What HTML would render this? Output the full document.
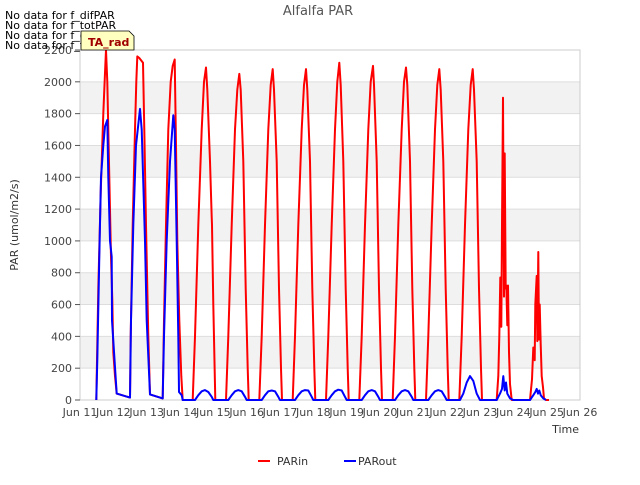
<!DOCTYPE html>
<html><head><meta charset="utf-8"><style>
body{margin:0;background:#fff;font-family:"Liberation Sans","DejaVu Sans",sans-serif;}
svg text{font-family:"DejaVu Sans","Liberation Sans",sans-serif;}
</style></head><body>
<svg id="chart" width="640" height="480" viewBox="0 0 640 480" xmlns="http://www.w3.org/2000/svg">
<g id="bands"></g><g id="grid"></g>
<rect x="80" y="50" width="500" height="350" fill="none" stroke="#ccc"/>
<g id="series"></g><g id="ticks"></g>
<text x="318" y="15" text-anchor="middle" font-size="13" fill="#555">Alfalfa PAR</text>
<text x="18" y="225" text-anchor="middle" font-size="11" fill="#333" transform="rotate(-90 18 225)">PAR (umol/m2/s)</text>
<text x="579" y="433" text-anchor="end" font-size="11" fill="#333">Time</text>
<g font-size="11" fill="#000">
<text x="5" y="19">No data for f_difPAR</text><text x="5" y="29">No data for f_totPAR</text>
<text x="5" y="39">No data for f_difPAR</text><text x="5" y="49">No data for f_totPAR</text></g>
<g>
<path d="M81,31 H129 L134,36 V50 H81 Z" fill="#ffffc0" stroke="#000" stroke-width="0.8"/>
<text x="88" y="46" font-size="11" font-weight="bold" fill="#a00000">TA_rad</text></g>
<g>
<line x1="258" y1="461" x2="270" y2="461" stroke="#f00" stroke-width="2"/>
<text x="277" y="465" font-size="11" fill="#333">PARin</text>
<line x1="344" y1="461" x2="356" y2="461" stroke="#00f" stroke-width="2"/>
<text x="358" y="465" font-size="11" fill="#333">PARout</text></g>
</svg>
<script>
const xTickDays=[11,12,13,14,15,16,17,18,19,20,21,22,23,24,25,26];
const yTicks=[0,200,400,600,800,1000,1200,1400,1600,1800,2000,2200];
const parinT=[11.49,11.55,11.62,11.7,11.76,11.78,11.82,11.88,11.93,11.97,11.98,12.0,12.05,12.1,12.5,12.52,12.58,12.65,12.69,12.72,12.78,12.89,12.93,12.98,13.05,13.1,13.48,13.52,13.58,13.65,13.72,13.78,13.84,13.88,13.92,13.98,14.04,14.08,
14.38,14.45,14.55,14.65,14.72,14.78,14.82,14.9,14.95,14.96,15.0,15.06,
15.38,15.45,15.55,15.65,15.72,15.78,15.82,15.9,15.97,16.03,16.06,
16.38,16.45,16.55,16.65,16.72,16.78,16.82,16.9,16.97,17.03,17.06,
17.38,17.45,17.55,17.65,17.72,17.78,17.82,17.9,17.97,18.03,18.06,
18.38,18.45,18.55,18.65,18.72,18.78,18.82,18.9,18.97,19.03,19.06,
19.38,19.45,19.55,19.65,19.72,19.79,19.82,19.9,19.97,20.03,20.06,
20.38,20.45,20.55,20.65,20.72,20.78,20.82,20.9,20.97,21.03,21.06,
21.38,21.45,21.55,21.65,21.72,21.78,21.82,21.9,21.97,22.03,22.06,
22.38,22.45,22.55,22.65,22.72,22.78,22.82,22.9,22.97,23.03,23.06,
23.5,23.55,23.58,23.61,23.64,23.66,23.69,23.72,23.74,23.77,23.79,23.82,23.84,23.87,23.9,23.95,24.02,24.1,
24.5,24.56,24.6,24.64,24.66,24.7,24.72,24.75,24.77,24.79,24.82,24.85,24.89,24.92,24.98,25.07];
const parinV=[0,700,1300,1800,2100,2200,2000,1400,900,630,500,300,150,40,15,400,1100,1700,2000,2160,2150,2120,1700,1100,400,35,10,500,1100,1700,2000,2100,2140,1600,1000,500,150,0,
0,400,1100,1700,2000,2090,1950,1500,1150,1100,600,0,
0,400,1100,1700,1950,2050,1950,1500,700,200,0,
0,400,1100,1700,1980,2080,1950,1500,700,200,0,
0,400,1100,1700,1980,2080,1950,1500,700,200,0,
0,400,1100,1700,2000,2120,1980,1500,700,200,0,
0,400,1100,1700,2000,2100,1980,1500,700,200,0,
0,400,1100,1700,2000,2090,1980,1500,700,200,0,
0,400,1100,1700,1980,2080,1950,1500,700,200,0,
0,400,1100,1700,1980,2080,1950,1500,700,200,0,
0,150,400,770,460,1100,1900,650,1550,700,720,470,720,300,100,0,0,0,
0,130,330,250,600,780,370,930,380,600,350,150,80,10,0,0];
const paroutT=[11.49,11.52,11.58,11.63,11.7,11.75,11.82,11.85,11.9,11.95,11.96,12.1,12.5,12.53,12.6,12.68,12.8,12.85,12.95,13.0,13.1,13.48,13.52,13.6,13.7,13.8,13.84,13.9,13.95,13.97,14.05,14.08,
14.45,14.55,14.65,14.75,14.85,14.95,15.0,
15.45,15.55,15.65,15.75,15.85,15.95,16.0,
16.45,16.55,16.65,16.75,16.85,16.95,17.0,
17.45,17.55,17.65,17.75,17.85,17.95,18.0,
18.45,18.55,18.65,18.75,18.85,18.95,19.0,
19.45,19.55,19.65,19.75,19.85,19.95,20.0,
20.45,20.55,20.65,20.75,20.85,20.95,21.0,
21.45,21.55,21.65,21.75,21.85,21.95,22.0,
22.4,22.5,22.6,22.7,22.8,22.9,23.0,
23.5,23.6,23.66,23.7,23.74,23.78,23.82,23.9,24.0,
24.5,24.6,24.66,24.7,24.74,24.78,24.82,24.9,24.98];
const paroutV=[0,250,900,1400,1600,1720,1760,1400,1000,900,500,40,15,500,1100,1600,1830,1700,1000,500,35,10,400,1000,1500,1790,1700,1000,400,50,30,0,
0,30,55,62,50,20,0,
0,30,55,62,55,20,0,
0,30,55,60,55,20,0,
0,30,55,62,60,20,0,
0,30,55,65,60,20,0,
0,30,55,62,55,20,0,
0,30,55,62,55,20,0,
0,30,55,62,55,20,0,
0,40,110,150,120,40,0,
0,40,70,150,60,110,40,10,0,
0,30,50,70,40,60,30,10,0];
const NS="http://www.w3.org/2000/svg";
const X=d=>80+(d-11)*500/15, Y=v=>400-v*350/2200;
const svg=document.getElementById('chart');
const bands=document.getElementById('bands'),grid=document.getElementById('grid'),ticks=document.getElementById('ticks'),series=document.getElementById('series');
for(let i=0;i<yTicks.length-1;i++){ if(i%2===1){const r=document.createElementNS(NS,'rect');
r.setAttribute('x',80);r.setAttribute('y',Y(yTicks[i+1]));r.setAttribute('width',500);r.setAttribute('height',Y(yTicks[i])-Y(yTicks[i+1]));r.setAttribute('fill','#f2f2f2');


bands.appendChild(r);}}
yTicks.forEach(v=>{const l=document.createElementNS(NS,'line');
l.setAttribute('x1',80);l.setAttribute('x2',580);l.setAttribute('y1',Y(v));l.setAttribute('y2',Y(v));l.setAttribute('stroke','#ddd');


grid.appendChild(l);
const tk=document.createElementNS(NS,'line');tk.setAttribute('x1',75);tk.setAttribute('x2',80);tk.setAttribute('y1',Y(v));tk.setAttribute('y2',Y(v));tk.setAttribute('stroke','#555');


ticks.appendChild(tk);
const t=document.createElementNS(NS,'text');t.setAttribute('x',72);t.setAttribute('y',Y(v)+4);t.setAttribute('text-anchor','end');t.setAttribute('font-size','11');t.setAttribute('fill','#444');t.textContent=v;


ticks.appendChild(t);});
xTickDays.forEach(d=>{const t=document.createElementNS(NS,'text');t.setAttribute('x',X(d));t.setAttribute('y',416);t.setAttribute('text-anchor','middle');t.setAttribute('font-size','11');t.setAttribute('fill','#444');t.textContent='Jun '+d;


ticks.appendChild(t);});
function line(T,V,color,name){const p=document.createElementNS(NS,'polyline');
p.setAttribute('points',T.map((t,i)=>X(t).toFixed(1)+','+Y(V[i]).toFixed(1)).join(' '));
p.setAttribute('fill','none');p.setAttribute('stroke',color);p.setAttribute('stroke-width','2');p.setAttribute('stroke-linejoin','round');


series.appendChild(p);}
line(parinT,parinV,'#ff0000','parin-line');
line(paroutT,paroutV,'#0000ff','parout-line');
</script>
</body></html>
